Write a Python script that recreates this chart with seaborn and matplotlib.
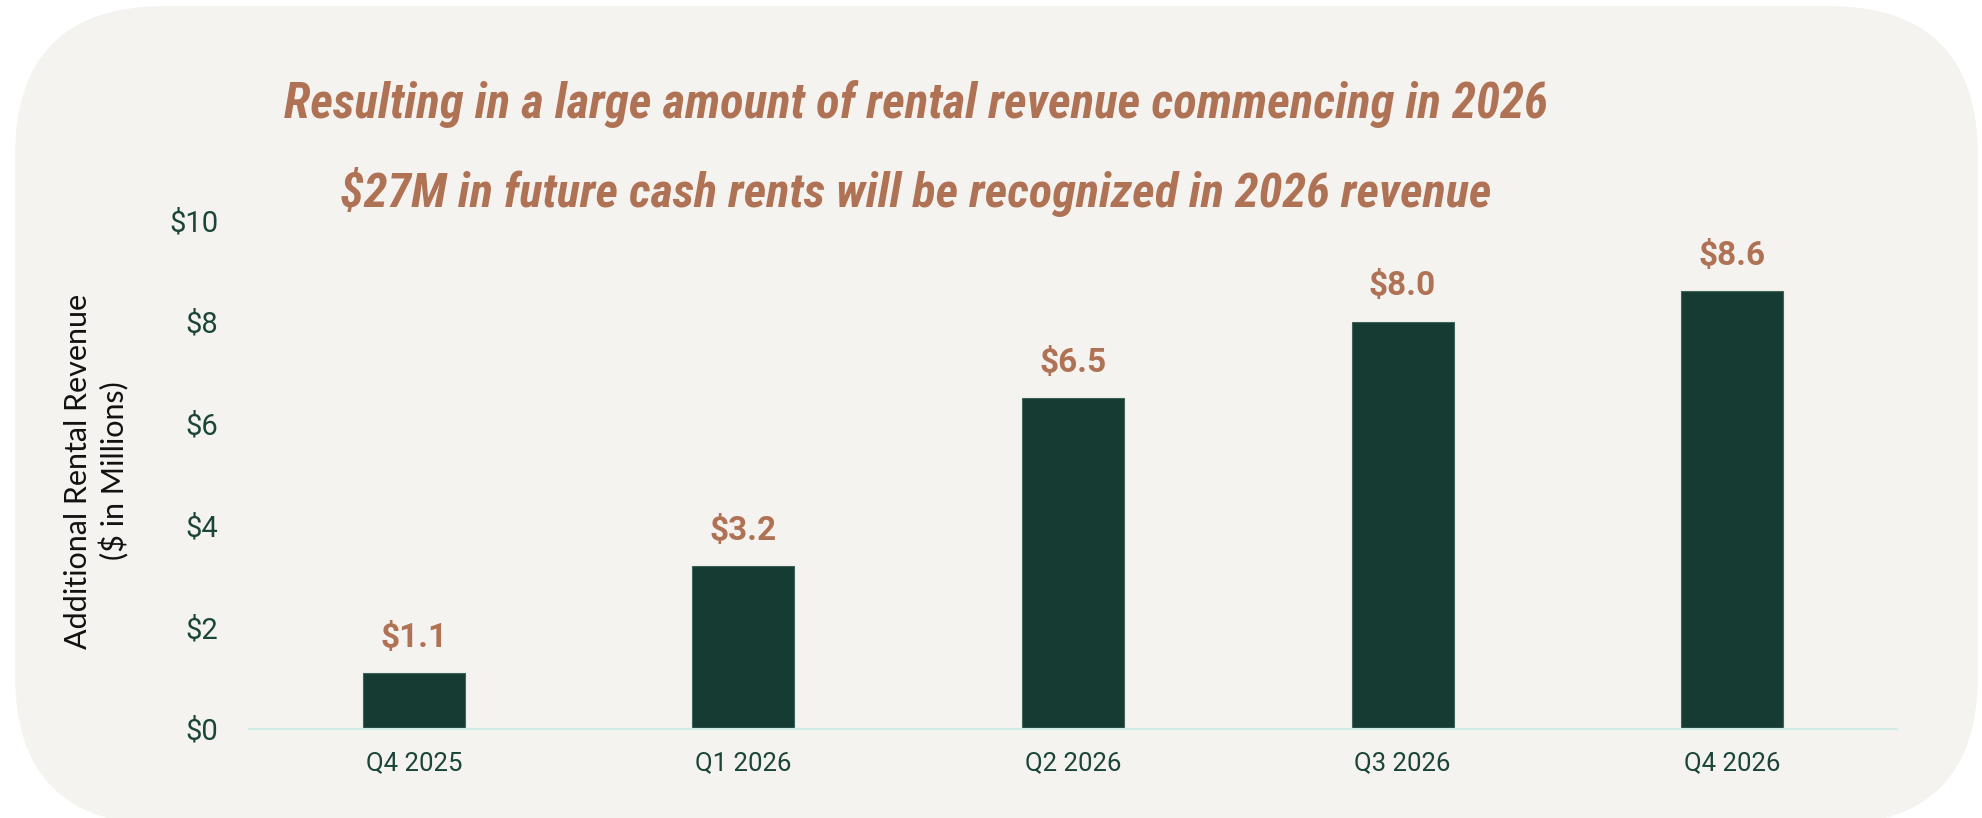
#!/usr/bin/env python

import numpy as np
import matplotlib
matplotlib.use("Agg")
import matplotlib.pyplot as plt
from matplotlib import font_manager as fm
from matplotlib.patches import FancyBboxPatch
from matplotlib.transforms import IdentityTransform
import seaborn as sns

# chart data
quarters = ["Q4 2025", "Q1 2026", "Q2 2026", "Q3 2026", "Q4 2026"]
revenue = [1.1, 3.2, 6.5, 8.0, 8.6]
yticks = [0, 2, 4, 6, 8, 10]
title_1 = "Resulting in a large amount of rental revenue commencing in 2026"
title_2 = "$27M in future cash rents will be recognized in 2026 revenue"
ylabel = "Additional Rental Revenue\n($ in Millions)"

BAR = "#163b33"
ACCENT = "#b07254"
TICK = "#1b4539"
PANEL = "#f5f3f0"


def pick_font(options, fallback):
    names = {f.name for f in fm.fontManager.ttflist}
    for n in options:
        if n in names:
            return n
    return fallback


def main():
    sns.set_theme(style="white")
    plt.rcParams["font.family"] = ["Roboto", "DejaVu Sans"]

    W, H = 1982, 818
    fig = plt.figure(figsize=(W / 100, H / 100), dpi=100)
    fig.patch.set_facecolor("white")

    # rounded background panel (pixel coords)
    panel = FancyBboxPatch((15, H - 825), 1963, 825 - 6,
                           boxstyle="round,pad=0,rounding_size=150",
                           transform=IdentityTransform(),
                           facecolor=PANEL, edgecolor="none", zorder=0)
    fig.add_artist(panel)

    ax = fig.add_axes([249 / W, 1 - 729 / H, (1897 - 249) / W, (729 - 220) / H])
    ax.set_facecolor("none")

    sns.barplot(x=quarters, y=revenue, color=BAR, saturation=1, width=0.31,
                edgecolor="#3f6359", linewidth=0.8, ax=ax)
    ax.bar_label(ax.containers[0], labels=[f"${v:.1f}" for v in revenue],
                 padding=14, color=ACCENT, fontsize=24, fontweight="bold")

    ax.set_xlim(-0.5, len(quarters) - 0.5)
    ax.set_ylim(0, 10)
    ax.set_yticks(yticks)
    ax.set_yticklabels([f"${t}" for t in yticks])
    ax.tick_params(axis="y", length=0, pad=22, labelsize=21, labelcolor=TICK)
    ax.tick_params(axis="x", length=0, pad=16, labelsize=18.5, labelcolor=TICK)
    ax.set_xlabel("")
    ax.set_ylabel("")

    for s in ["top", "right", "left"]:
        ax.spines[s].set_visible(False)
    ax.spines["bottom"].set_color("#cfece6")
    ax.spines["bottom"].set_linewidth(1.6)
    ax.grid(False)

    fig.text(97 / W, 1 - 471 / H, ylabel, rotation=90, ha="center", va="center",
             multialignment="center", fontsize=22, color="#111111",
             family=["Lato", "DejaVu Sans"], linespacing=1.3)

    # headline text, condensed bold italic if one is installed
    tfont = pick_font(["Liberation Sans Narrow", "DejaVu Sans Condensed",
                       "Roboto Condensed"], "Liberation Sans")
    t1 = fig.text(916 / W, 1 - 118 / H, title_1, ha="center", va="baseline",
                  fontsize=29, fontweight="bold", fontstyle="italic",
                  color=ACCENT, family=[tfont, "DejaVu Sans"])
    t2 = fig.text(916 / W, 1 - 207 / H, title_2, ha="center", va="baseline",
                  fontsize=29, fontweight="bold", fontstyle="italic",
                  color=ACCENT, family=[tfont, "DejaVu Sans"])

    fig.canvas.draw()
    renderer = fig.canvas.get_renderer()
    for t, target in [(t1, 1265), (t2, 1151)]:
        w = t.get_window_extent(renderer=renderer).width
        t.set_fontsize(t.get_fontsize() * target / w)

    fig.savefig("out.png", dpi=100, facecolor="white")


if __name__ == "__main__":
    main()
